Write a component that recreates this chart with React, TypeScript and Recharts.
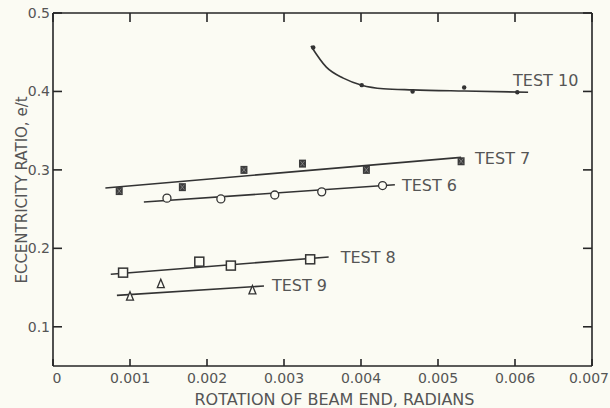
import { ComposedChart, Line, Scatter, XAxis, YAxis, Label, LabelList, ReferenceLine } from "recharts";

// axis ticks
const xTicks = [0, 0.001, 0.002, 0.003, 0.004, 0.005, 0.006, 0.007];
const yTicks = [0.1, 0.2, 0.3, 0.4, 0.5];

// TEST 7 (filled squares)
const test7Rot = [0.00086, 0.00168, 0.00248, 0.00324, 0.00407, 0.0053];
const test7Ecc = [0.273, 0.278, 0.3, 0.308, 0.3, 0.311];
const test7FitRot = [0.00068, 0.0053];
const test7FitEcc = [0.277, 0.316];

// TEST 6 (open circles)
const test6Rot = [0.00148, 0.00218, 0.00288, 0.00349, 0.00428];
const test6Ecc = [0.264, 0.263, 0.268, 0.272, 0.28];
const test6FitRot = [0.00118, 0.00444];
const test6FitEcc = [0.259, 0.281];

// TEST 8 (open squares)
const test8Rot = [0.00091, 0.0019, 0.00231, 0.00334];
const test8Ecc = [0.169, 0.183, 0.178, 0.186];
const test8FitRot = [0.00075, 0.00358];
const test8FitEcc = [0.167, 0.189];

// TEST 9 (open triangles)
const test9Rot = [0.001, 0.0014, 0.00259];
const test9Ecc = [0.139, 0.155, 0.147];
const test9FitRot = [0.00083, 0.00274];
const test9FitEcc = [0.14, 0.152];

// TEST 10 (dots) + hand-drawn curve
const test10Rot = [0.00338, 0.00401, 0.00467, 0.00534, 0.00603];
const test10Ecc = [0.456, 0.408, 0.4, 0.405, 0.399];
const test10CurveRot = [0.00335, 0.00355, 0.00377, 0.00401, 0.00429, 0.00467, 0.00534, 0.00617];
const test10CurveEcc = [0.458, 0.431, 0.417, 0.408, 0.4035, 0.402, 0.4005, 0.399];

const BG = "#fbfbf3";
const INK = "#333";
const FRAME = "#262626";
const TXT = "#555";
const FONT = "'DejaVu Sans', sans-serif";

const W = 610;
const H = 408;
const M = { top: 13, right: 18, left: 0, bottom: 0 };
const PLOT_RIGHT = W - M.right;

const pts = (xs: number[], ys: number[]) => xs.map((x, i) => ({ x, y: ys[i] }));

const Test7Dot = ({ cx, cy }: any) => (
    <g>
        <rect x={cx - 3.5} y={cy - 4} width={7} height={8} fill="#3c3c3c" />
        <path d={`M${cx - 2},${cy - 2.5}L${cx + 2},${cy + 2.5}M${cx + 2},${cy - 2.5}L${cx - 2},${cy + 2.5}`} stroke="#8a8a8a" strokeWidth={0.8} />
    </g>
);
const Test6Dot = ({ cx, cy }: any) => <circle cx={cx} cy={cy} r={4} fill={BG} stroke={INK} strokeWidth={1.3} />;
const Test8Dot = ({ cx, cy }: any) => (
    <rect x={cx - 4.5} y={cy - 4.5} width={9} height={9} fill={BG} stroke={INK} strokeWidth={1.5} />
);
const Test9Dot = ({ cx, cy }: any) => (
    <path d={`M${cx},${cy - 4.5}L${cx + 3.5},${cy + 4}L${cx - 3.5},${cy + 4}Z`} fill={BG} stroke={INK} strokeWidth={1.3} />
);
const Test10Dot = ({ cx, cy }: any) => <circle cx={cx} cy={cy} r={2.2} fill={INK} />;

// bottom tick label + inward tick marks on bottom and top frame
const XTick = ({ x, y, payload, index }: any) => {
    const axisY = y - 7;
    const last = index === xTicks.length - 1;
    return (
        <g>
            <line x1={x} y1={axisY} x2={x} y2={axisY - 7} stroke={FRAME} strokeWidth={1.6} />
            <line x1={x} y1={M.top} x2={x} y2={M.top + 9} stroke={FRAME} strokeWidth={1.6} />
            <text x={last ? W - 1 : index === 0 ? x + 4 : x} y={y} dy="0.71em" textAnchor={last ? "end" : "middle"}
                fill={TXT} fontSize={14} fontFamily={FONT}>
                {String(payload.value)}
            </text>
        </g>
    );
};

// left tick label + inward tick marks on left and right frame
const YTick = ({ x, y, payload }: any) => {
    const axisX = x + 3;
    return (
        <g>
            <line x1={axisX} y1={y} x2={axisX + 9} y2={y} stroke={FRAME} strokeWidth={1.6} />
            <line x1={PLOT_RIGHT - 9} y1={y} x2={PLOT_RIGHT} y2={y} stroke={FRAME} strokeWidth={1.6} />
            <text x={x} y={y} dy="0.36em" textAnchor="end" fill={TXT} fontSize={14} fontFamily={FONT}>
                {String(payload.value)}
            </text>
        </g>
    );
};

const endLabel = (text: string, count: number, dx: number, dy: number) => (props: any) => {
    if (props.index !== count - 1) return null;
    const x = props.x ?? props.viewBox?.x;
    const y = props.y ?? props.viewBox?.y;
    return (
        <text x={x + dx} y={y + dy} fill={TXT} fontSize={16} fontFamily={FONT} dominantBaseline="central">
            {text}
        </text>
    );
};

const XTitle = ({ viewBox }: any) => (
    <text x={viewBox.x + viewBox.width / 2 + 12} y={viewBox.y + 39} textAnchor="middle" fill={TXT} fontSize={16} fontFamily={FONT}>
        ROTATION OF BEAM END, RADIANS
    </text>
);
const YTitle = () => (
    <text x={27} y={190} transform="rotate(-90 27 190)" textAnchor="middle" fill={TXT} fontSize={15} fontFamily={FONT}>
        ECCENTRICITY RATIO, e/t
    </text>
);

const fits = [
    { rot: test7FitRot, ecc: test7FitEcc, text: "TEST 7", dx: 14, dy: 1 },
    { rot: test6FitRot, ecc: test6FitEcc, text: "TEST 6", dx: 7, dy: 1 },
    { rot: test8FitRot, ecc: test8FitEcc, text: "TEST 8", dx: 12, dy: 1 },
    { rot: test9FitRot, ecc: test9FitEcc, text: "TEST 9", dx: 8, dy: 0 },
];

export default function App() {
    return (
        <div style={{ position: "absolute", left: 0, top: 0, width: W, height: H, background: BG }}>
            <ComposedChart width={W} height={H} margin={M}>
                <XAxis dataKey="x" type="number" domain={[0, 0.007]} ticks={xTicks} height={42}
                    tickLine={false} tickSize={0} tickMargin={7} tick={XTick} interval={0}
                    axisLine={{ stroke: FRAME, strokeWidth: 1.6 }}>
                    <Label content={XTitle} />
                </XAxis>
                <YAxis dataKey="y" type="number" domain={[0.05, 0.5]} ticks={yTicks} width={53}
                    tickLine={false} tickSize={0} tickMargin={3} tick={YTick} interval={0}
                    axisLine={{ stroke: FRAME, strokeWidth: 1.6 }}>
                    <Label content={YTitle} />
                </YAxis>
                {/* top and right frame */}
                <ReferenceLine y={0.5} stroke={FRAME} strokeWidth={1.6} />
                <ReferenceLine x={0.007} stroke={FRAME} strokeWidth={1.6} />

                {fits.map((f) => (
                    <Line key={f.text} data={pts(f.rot, f.ecc)} dataKey="y" type="linear" stroke={INK} strokeWidth={1.6}
                        dot={false} activeDot={false} isAnimationActive={false}>
                        <LabelList dataKey="y" content={endLabel(f.text, f.rot.length, f.dx, f.dy)} />
                    </Line>
                ))}
                <Line data={pts(test10CurveRot, test10CurveEcc)} dataKey="y" type="monotone" stroke={INK} strokeWidth={1.6}
                    dot={false} activeDot={false} isAnimationActive={false}>
                    <LabelList dataKey="y" content={endLabel("TEST 10", test10CurveRot.length, -15, -12)} />
                </Line>

                <Scatter data={pts(test7Rot, test7Ecc)} shape={Test7Dot} isAnimationActive={false} />
                <Scatter data={pts(test6Rot, test6Ecc)} shape={Test6Dot} isAnimationActive={false} />
                <Scatter data={pts(test8Rot, test8Ecc)} shape={Test8Dot} isAnimationActive={false} />
                <Scatter data={pts(test9Rot, test9Ecc)} shape={Test9Dot} isAnimationActive={false} />
                <Scatter data={pts(test10Rot, test10Ecc)} shape={Test10Dot} isAnimationActive={false} />
            </ComposedChart>
        </div>
    );
}
